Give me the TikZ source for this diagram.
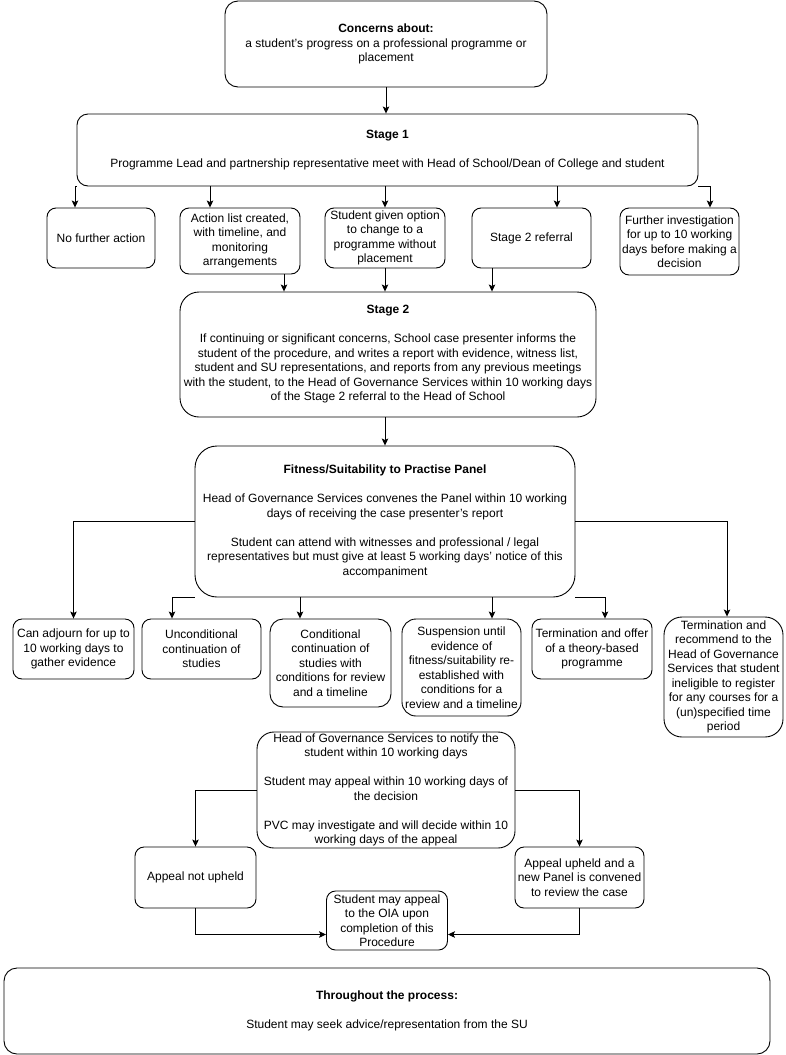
\documentclass[tikz,border=0pt]{standalone}
\usepackage{fontspec}
\setmainfont{Liberation Sans}
\usetikzlibrary{positioning, arrows.meta}

\begin{document}
\begin{tikzpicture}[x=1pt, y=-1pt, >={Stealth[length=7pt, width=6.5pt, inset=1.5pt]}, line width=0.9pt,
    box/.style={draw, rounded corners=#1, align=center, inner sep=0pt,
                font=\fontsize{12}{14.5}\selectfont},
    box/.default=9pt]
    \useasboundingbox (0,0) rectangle (785,1055);

    \node[box=13pt, minimum width=322pt, minimum height=86pt] (concern) at (386,44)
        {\textbf{Concerns about:}\\ a student's progress on a professional programme or\\ placement};
    \node[box=11pt, minimum width=621pt, minimum height=72pt] (stage1) at (387.5,150)
        {\textbf{Stage 1}\\[14.5pt] Programme Lead and partnership representative meet with Head of School/Dean of College and student};

    \node[box, minimum width=108pt, minimum height=60pt] (nfa) at (101,238) {No further action};
    \node[box, minimum width=120pt, minimum height=66pt] (act) at (240,241)
        {Action list created,\\ with timeline, and\\ monitoring\\ arrangements};
    \node[box, minimum width=120pt, minimum height=60pt] (opt) at (385,238)
        {Student given option\\ to change to a\\ programme without\\ placement};
    \node[box, minimum width=119pt, minimum height=60pt] (s2r) at (531.5,238) {Stage 2 referral};
    \node[box, minimum width=119pt, minimum height=67pt] (fur) at (679.5,241.5)
        {Further investigation\\ for up to 10 working\\ days before making a\\ decision};

    \node[box=19pt, minimum width=416pt, minimum height=125pt] (stage2) at (388,354.5)
        {\textbf{Stage 2}\\[14.5pt] If continuing or significant concerns, School case presenter informs the\\
         student of the procedure, and writes a report with evidence, witness list,\\
         student and SU representations, and reports from any previous meetings\\
         with the student, to the Head of Governance Services within 10 working days\\
         of the Stage 2 referral to the Head of School};

    \node[box=22pt, minimum width=380pt, minimum height=151pt] (panel) at (385,521.5)
        {\textbf{Fitness/Suitability to Practise Panel}\\[14.5pt]
         Head of Governance Services convenes the Panel within 10 working\\
         days of receiving the case presenter's report\\[14.5pt]
         Student can attend with witnesses and professional / legal\\
         representatives but must give at least 5 working days' notice of this\\
         accompaniment};

    \node[box, minimum width=121pt, minimum height=60pt] (adj) at (73.5,649)
        {Can adjourn for up to\\ 10 working days to\\ gather evidence};
    \node[box, minimum width=119pt, minimum height=60pt] (unc) at (201.5,649)
        {Unconditional\\ continuation of\\ studies};
    \node[box=13pt, minimum width=121pt, minimum height=88pt] (cond) at (330.5,663)
        {Conditional\\ continuation of\\ studies with\\ conditions for review\\ and a timeline};
    \node[box=14pt, minimum width=119pt, minimum height=97pt] (susp) at (461.5,667.5)
        {Suspension until\\ evidence of\\ fitness/suitability re-\\ established with\\ conditions for a\\ review and a timeline};
    \node[box, minimum width=120pt, minimum height=60pt] (toff) at (592,649)
        {Termination and offer\\ of a theory-based\\ programme};
    \node[box=18pt, minimum width=119pt, minimum height=120pt] (trec) at (723.5,677)
        {Termination and\\ recommend to the\\ Head of Governance\\ Services that student\\ ineligible to register\\ for any courses for a\\ (un)specified time\\ period};

    \node[box=17pt, minimum width=258pt, minimum height=116pt] (hog) at (386,790)
        {Head of Governance Services to notify the\\ student within 10 working days\\[14.5pt]
         Student may appeal within 10 working days of\\ the decision\\[14.5pt]
         PVC may investigate and will decide within 10\\ working days of the appeal};
    \node[box, minimum width=121pt, minimum height=61pt] (nup) at (195.5,877.5) {Appeal not upheld};
    \node[box, minimum width=129pt, minimum height=61pt] (upd) at (579.5,877.5)
        {Appeal upheld and a\\ new Panel is convened\\ to review the case};
    \node[box, minimum width=121pt, minimum height=59pt] (oia) at (387,920.5)
        {Student may appeal\\ to the OIA upon\\ completion of this\\ Procedure};

    \node[box=13pt, minimum width=766pt, minimum height=86pt] (thr) at (387,1011)
        {\textbf{Throughout the process:}\\[14.5pt] Student may seek advice/representation from the SU};

    % stage 1
    \draw[->] (concern.south) -- (concern.south |- stage1.north);
    \draw[->] (stage1.south west) -| ([xshift=-26pt]nfa.north);
    \draw[->] ([xshift=-30pt]act.north |- stage1.south) -- ([xshift=-30pt]act.north);
    \draw[->] (opt.north |- stage1.south) -- (opt.north);
    \draw[->] ([xshift=25.5pt]s2r.north |- stage1.south) -- ([xshift=25.5pt]s2r.north);
    \draw[->] (stage1.south east) -| ([xshift=30.5pt]fur.north);

    % stage 2
    \draw[->] ([xshift=44pt]act.south) -- ([xshift=44pt]act.south |- stage2.north);
    \draw[->] (opt.south) -- (opt.south |- stage2.north);
    \draw[->] ([xshift=-39.5pt]s2r.south) -- ([xshift=-39.5pt]s2r.south |- stage2.north);
    \draw[->] (panel.north |- stage2.south) -- (panel.north);

    % panel outcomes
    \draw[->] (panel.west) -| (adj.north);
    \draw[->] (panel.south west) -| ([xshift=-29.5pt]unc.north);
    \draw[->] ([xshift=-30.5pt]cond.north |- panel.south) -- ([xshift=-30.5pt]cond.north);
    \draw[->] ([xshift=30.5pt]susp.north |- panel.south) -- ([xshift=30.5pt]susp.north);
    \draw[->] (panel.south east) -| ([xshift=13pt]toff.north);
    \draw[->] (panel.east) -| ([xshift=3.5pt]trec.north);

    % appeal
    \draw[->] (hog.west) -| (nup.north);
    \draw[->] (hog.east) -| (upd.north);
    \draw[->] (nup.south) |- ([yshift=-14pt]oia.west);
    \draw[->] (upd.south) |- ([yshift=-14pt]oia.east);
\end{tikzpicture}
\end{document}
